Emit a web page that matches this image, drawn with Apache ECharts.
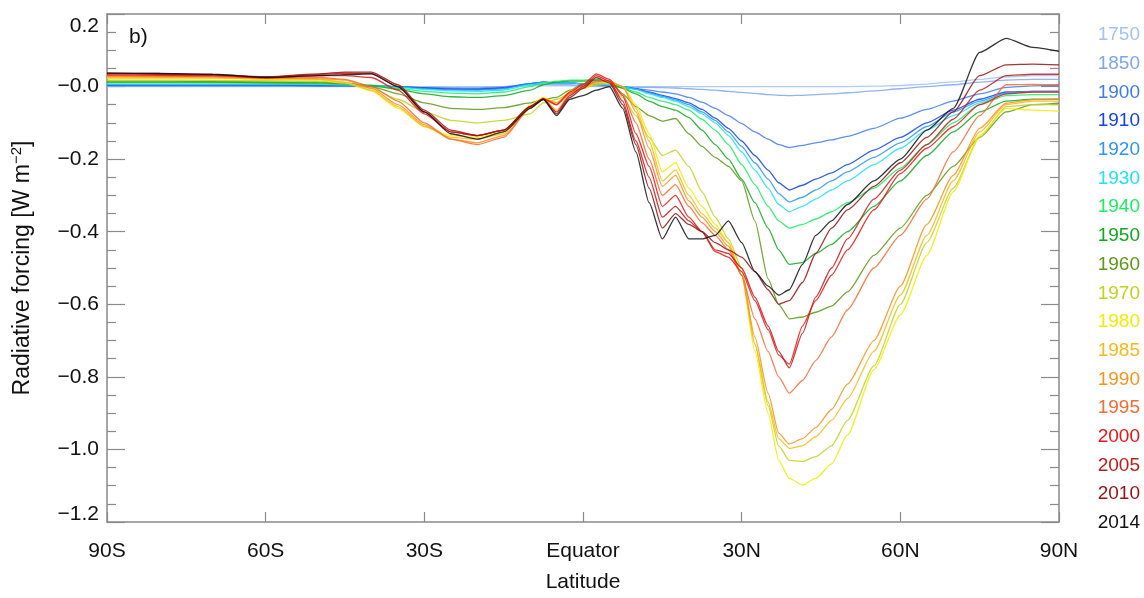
<!DOCTYPE html>
<html>
<head>
<meta charset="utf-8">
<script src="https://cdn.jsdelivr.net/npm/echarts@6/dist/echarts.min.js"></script>
<style>
html,body{margin:0;padding:0;background:#fff;}
#chart{width:1144px;height:598px;}
</style>
</head>
<body>
<div id="chart"></div>
<script>
// Latitude grid (degrees, negative = south)
const LAT = [-90,-80,-70,-60,-50,-45,-40,-35,-30,-25,-20,-15,-10,-7.5,-5,-2.5,0,2.5,5,7.5,10,12.5,15,17.5,20,22.5,25,27.5,30,32.5,35,37,39,41.5,44,47,50,55,60,65,70,75,80,85,90];

const X_TICK_LABELS = ['90S','60S','30S','Equator','30N','60N','90N'];
const Y_TICK_LABELS = ['\u22121.2','\u22121.0','\u22120.8','\u22120.6','\u22120.4','\u22120.2','\u22120.0','0.2'];

const YEARS = ['1750','1850','1900','1910','1920','1930','1940','1950','1960','1970','1980','1985','1990','1995','2000','2005','2010','2014'];
const COLORS = ['#a4c2f4','#7ea6f0','#3f7bef','#1244e6','#2d95f7','#1fe1f7','#18f060','#0faa1e','#5c9a16','#bed41e','#f2ec00','#f8b81c','#f8941e','#f86a30','#ee1414','#c41a1a','#9a1010','#111111'];

// Radiative forcing (W m-2) per year, one value per LAT entry
const RF1750 = [0,0,0,0,0,0,0,0,0,0,0,0,0.002,0.002,0.002,0.002,0.001,
  0,0,0,0,0,0,0,0,0,0,0,0,0,0,0,0,0,0,0,0,0.001,0.003,0.007,0.013,0.02,0.027,0.03,0.03];
const RF1850 = [0.001,0.001,0.001,0.001,0.001,0.001,0,0,-0.002,-0.003,-0.003,0,0.005,0.006,0.005,0.005,0.003,
  0.002,0,-0.001,-0.002,-0.002,-0.003,-0.004,-0.006,-0.008,-0.01,-0.013,-0.016,-0.019,-0.022,-0.024,-0.025,-0.024,-0.022,-0.02,-0.017,-0.012,-0.006,0,0.005,0.012,0.018,0.02,0.02];
const RF1900 = [0.003,0.003,0.003,0.003,0.002,0.002,0.001,0,-0.003,-0.005,-0.006,-0.002,0.008,0.012,0.01,0.01,0.008,
  0.005,0.002,-0.002,-0.006,-0.01,-0.015,-0.02,-0.03,-0.043,-0.06,-0.08,-0.102,-0.125,-0.145,-0.16,-0.168,-0.162,-0.155,-0.147,-0.137,-0.115,-0.087,-0.063,-0.04,-0.02,-0.002,0.002,0.003];
const RF1910 = [0.004,0.004,0.004,0.004,0.003,0.003,0.002,0,-0.004,-0.007,-0.008,-0.004,0.008,0.012,0.01,0.01,0.008,
  0.008,0.005,0,-0.006,-0.015,-0.024,-0.033,-0.045,-0.063,-0.087,-0.115,-0.15,-0.19,-0.23,-0.265,-0.285,-0.272,-0.255,-0.238,-0.215,-0.175,-0.14,-0.1,-0.065,-0.035,-0.015,-0.013,-0.013];
const RF1920 = [0.005,0.005,0.005,0.005,0.005,0.004,0.002,0,-0.006,-0.009,-0.01,-0.006,0.008,0.012,0.01,0.01,0.008,
  0.008,0.005,0,-0.007,-0.017,-0.027,-0.037,-0.05,-0.07,-0.093,-0.125,-0.165,-0.21,-0.255,-0.295,-0.318,-0.305,-0.285,-0.26,-0.235,-0.195,-0.155,-0.11,-0.07,-0.04,-0.018,-0.013,-0.013];
const RF1930 = [0.007,0.007,0.007,0.007,0.006,0.005,0.003,-0.002,-0.008,-0.012,-0.013,-0.01,0.005,0.01,0.01,0.01,0.008,
  0.008,0.005,0,-0.008,-0.02,-0.03,-0.04,-0.055,-0.075,-0.1,-0.135,-0.18,-0.23,-0.28,-0.325,-0.345,-0.33,-0.31,-0.285,-0.26,-0.215,-0.17,-0.12,-0.08,-0.045,-0.02,-0.015,-0.015];
const RF1940 = [0.01,0.01,0.01,0.009,0.008,0.007,0.003,-0.005,-0.013,-0.018,-0.02,-0.015,0,0.01,0.015,0.018,0.018,
  0.02,0.012,-0.003,-0.015,-0.03,-0.04,-0.05,-0.065,-0.09,-0.12,-0.16,-0.215,-0.27,-0.33,-0.37,-0.39,-0.38,-0.365,-0.345,-0.32,-0.28,-0.225,-0.16,-0.1,-0.05,-0.025,-0.022,-0.022];
const RF1950 = [0.012,0.012,0.012,0.011,0.01,0.008,0.003,-0.008,-0.02,-0.028,-0.03,-0.025,-0.01,0.005,0.012,0.015,0.015,
  0.018,0.01,-0.005,-0.02,-0.04,-0.055,-0.065,-0.085,-0.12,-0.16,-0.2,-0.255,-0.32,-0.39,-0.45,-0.49,-0.485,-0.46,-0.435,-0.4,-0.33,-0.26,-0.19,-0.125,-0.07,-0.04,-0.035,-0.035];
const RF1960 = [0.015,0.015,0.014,0.013,0.012,0.01,0,-0.02,-0.045,-0.06,-0.063,-0.058,-0.045,-0.035,-0.03,-0.01,0.008,
  0.018,0.015,-0.02,-0.055,-0.08,-0.095,-0.088,-0.13,-0.165,-0.195,-0.22,-0.26,-0.37,-0.53,-0.6,-0.64,-0.635,-0.622,-0.605,-0.566,-0.465,-0.39,-0.3,-0.22,-0.14,-0.07,-0.05,-0.046];
const RF1970 = [0.018,0.018,0.017,0.016,0.015,0.01,-0.005,-0.035,-0.07,-0.093,-0.1,-0.093,-0.075,-0.045,-0.035,-0.02,-0.005,
  0.005,0.008,-0.03,-0.08,-0.14,-0.19,-0.175,-0.22,-0.29,-0.36,-0.42,-0.5,-0.71,-0.88,-0.99,-1.03,-1.033,-1.02,-0.99,-0.92,-0.77,-0.6,-0.43,-0.28,-0.14,-0.055,-0.05,-0.05];
const RF1980 = [0.023,0.023,0.022,0.02,0.018,0.01,-0.012,-0.06,-0.11,-0.135,-0.14,-0.125,-0.052,-0.03,-0.045,-0.015,-0.005,
  0.01,0.012,0,-0.05,-0.13,-0.235,-0.21,-0.28,-0.33,-0.38,-0.43,-0.52,-0.73,-0.9,-1.03,-1.08,-1.098,-1.08,-1.04,-0.96,-0.78,-0.63,-0.465,-0.29,-0.135,-0.06,-0.065,-0.068];
const RF1985 = [0.025,0.025,0.024,0.021,0.02,0.012,-0.01,-0.055,-0.11,-0.14,-0.145,-0.13,-0.055,-0.032,-0.065,-0.02,-0.005,
  0.012,0.015,0,-0.06,-0.15,-0.26,-0.23,-0.3,-0.35,-0.39,-0.43,-0.52,-0.71,-0.87,-0.97,-0.997,-0.99,-0.965,-0.92,-0.86,-0.73,-0.575,-0.41,-0.26,-0.125,-0.05,-0.04,-0.04];
const RF1990 = [0.028,0.027,0.026,0.023,0.022,0.018,-0.005,-0.05,-0.105,-0.145,-0.155,-0.135,-0.058,-0.033,-0.045,-0.018,-0.003,
  0.013,0.015,0,-0.07,-0.17,-0.275,-0.245,-0.315,-0.36,-0.4,-0.44,-0.52,-0.69,-0.845,-0.955,-0.985,-0.97,-0.94,-0.89,-0.82,-0.7,-0.55,-0.38,-0.245,-0.115,-0.046,-0.036,-0.035];
const RF1995 = [0.03,0.029,0.028,0.025,0.025,0.02,0,-0.04,-0.1,-0.145,-0.16,-0.14,-0.06,-0.035,-0.05,-0.02,0,
  0.015,0.015,-0.02,-0.1,-0.2,-0.3,-0.27,-0.33,-0.375,-0.41,-0.45,-0.52,-0.64,-0.73,-0.8,-0.845,-0.81,-0.755,-0.69,-0.615,-0.5,-0.41,-0.31,-0.18,-0.08,0.005,0.006,0.005];
const RF2000 = [0.032,0.031,0.03,0.024,0.03,0.03,0.025,-0.01,-0.075,-0.125,-0.135,-0.12,-0.055,-0.033,-0.05,-0.015,0.005,
  0.035,0.02,-0.025,-0.13,-0.22,-0.33,-0.3,-0.36,-0.4,-0.455,-0.47,-0.51,-0.59,-0.67,-0.74,-0.765,-0.66,-0.59,-0.52,-0.45,-0.34,-0.24,-0.17,-0.11,-0.05,-0.02,-0.015,-0.015];
const RF2005 = [0.035,0.034,0.032,0.026,0.033,0.037,0.036,0,-0.07,-0.125,-0.135,-0.12,-0.055,-0.035,-0.07,-0.025,0,
  0.03,0.015,-0.04,-0.15,-0.25,-0.36,-0.33,-0.37,-0.4,-0.45,-0.46,-0.5,-0.58,-0.66,-0.73,-0.775,-0.68,-0.58,-0.5,-0.42,-0.31,-0.23,-0.16,-0.09,-0.01,0.03,0.034,0.034];
const RF2010 = [0.037,0.036,0.033,0.027,0.035,0.04,0.04,0.005,-0.065,-0.12,-0.135,-0.12,-0.055,-0.035,-0.075,-0.03,-0.005,
  0.025,0.01,-0.05,-0.16,-0.28,-0.39,-0.35,-0.38,-0.4,-0.43,-0.45,-0.47,-0.51,-0.56,-0.6,-0.59,-0.54,-0.46,-0.39,-0.34,-0.275,-0.21,-0.14,-0.07,0.03,0.06,0.062,0.06];
const RF2014 = [0.037,0.036,0.034,0.025,0.03,0.033,0.035,0,-0.07,-0.13,-0.145,-0.125,-0.06,-0.035,-0.08,-0.035,-0.025,
  -0.01,0,-0.06,-0.18,-0.32,-0.42,-0.36,-0.42,-0.42,-0.41,-0.37,-0.43,-0.51,-0.55,-0.575,-0.56,-0.49,-0.41,-0.37,-0.325,-0.26,-0.2,-0.12,-0.06,0.094,0.133,0.108,0.097];

const SERIES_VALUES = [RF1750,RF1850,RF1900,RF1910,RF1920,RF1930,RF1940,RF1950,RF1960,RF1970,RF1980,RF1985,RF1990,RF1995,RF2000,RF2005,RF2010,RF2014];

const FONT = '"Liberation Sans", Arial, Helvetica, sans-serif';
const AXIS_GRAY = '#8a8a8a';

const chart = echarts.init(document.getElementById('chart'), null, {renderer: 'canvas'});

const series = YEARS.map((y, k) => ({
  name: y,
  type: 'line',
  xAxisIndex: 0,
  yAxisIndex: 0,
  data: LAT.map((la, i) => [la, SERIES_VALUES[k][i]]),
  showSymbol: false,
  symbol: 'none',
  smooth: 0.2,
  smoothMonotone: 'x',
  lineStyle: {color: COLORS[k], width: 1.3, opacity: 0.85},
  itemStyle: {color: COLORS[k]},
  emphasis: {disabled: true},
  animation: false,
  z: 2 + k
}));

const yAxisCommon = {
  type: 'value', min: -1.2, max: 0.2, interval: 0.2,
  axisLine: {show: true, onZero: false, lineStyle: {color: AXIS_GRAY, width: 1.5}},
  axisTick: {show: true, inside: true, length: 18, lineStyle: {color: AXIS_GRAY, width: 1.2}},
  minorTick: {show: true, splitNumber: 4, length: 9, lineStyle: {color: AXIS_GRAY, width: 1.2}},
  splitLine: {show: false},
  minorSplitLine: {show: false}
};
const xAxisCommon = {
  type: 'value', min: -90, max: 90, interval: 30,
  axisLine: {show: true, onZero: false, lineStyle: {color: AXIS_GRAY, width: 1.5}},
  axisTick: {show: true, inside: true, length: 10, lineStyle: {color: AXIS_GRAY, width: 1.2}},
  splitLine: {show: false}
};

const labelRich = {
  t: {fontSize: 21, color: '#111', fontFamily: FONT, padding: [24, 0, 0, 0]},
  b: {fontSize: 21, color: '#111', fontFamily: FONT, padding: [0, 0, 16, 0]}
};

chart.setOption({
  animation: false,
  backgroundColor: '#ffffff',
  textStyle: {fontFamily: FONT},
  grid: {left: 107, right: 85, top: 14, bottom: 67, containLabel: false},
  xAxis: [
    Object.assign({}, xAxisCommon, {
      position: 'bottom',
      name: 'Latitude',
      nameLocation: 'middle',
      nameGap: 50,
      nameTextStyle: {fontSize: 21, color: '#111', fontFamily: FONT},
      axisLabel: {
        show: true, margin: 19, fontSize: 21, color: '#111', fontFamily: FONT,
        formatter: v => X_TICK_LABELS[Math.round((v + 90) / 30)]
      }
    }),
    Object.assign({}, xAxisCommon, {position: 'top', axisLabel: {show: false}})
  ],
  yAxis: [
    Object.assign({}, yAxisCommon, {
      position: 'left',
      name: 'Radiative forcing [W m{sup|\u22122}]',
      nameLocation: 'middle',
      nameGap: 70,
      nameRotate: 90,
      nameTextStyle: {
        fontSize: 23, color: '#111', fontFamily: FONT,
        rich: {sup: {fontSize: 15, color: '#111', fontFamily: FONT, padding: [0, 0, 13, 0]}}
      },
      axisLabel: {
        show: true, margin: 8, fontSize: 21, color: '#111', fontFamily: FONT,
        showMinLabel: true, showMaxLabel: true,
        formatter: v => {
          const idx = Math.round((v + 1.2) / 0.2);
          const s = Y_TICK_LABELS[idx];
          if (idx === Y_TICK_LABELS.length - 1) return '{t|' + s + '}';
          if (idx === 0) return '{b|' + s + '}';
          return s;
        },
        rich: labelRich
      }
    }),
    Object.assign({}, yAxisCommon, {position: 'right', axisLabel: {show: false}})
  ],
  legend: {
    orient: 'vertical',
    right: 4,
    top: 25,
    padding: 0,
    icon: 'none',
    itemWidth: 0,
    itemHeight: 20,
    itemGap: 8.7,
    selectedMode: false,
    data: YEARS.map((y, k) => ({name: y, textStyle: {color: COLORS[k]}})),
    textStyle: {fontSize: 19, fontFamily: FONT, lineHeight: 20, padding: 0}
  },
  graphic: [{
    type: 'text', left: 129, top: 27,
    style: {text: 'b)', fontSize: 21, fill: '#111', fontFamily: FONT}
  }],
  series: series
});
</script>
</body>
</html>
